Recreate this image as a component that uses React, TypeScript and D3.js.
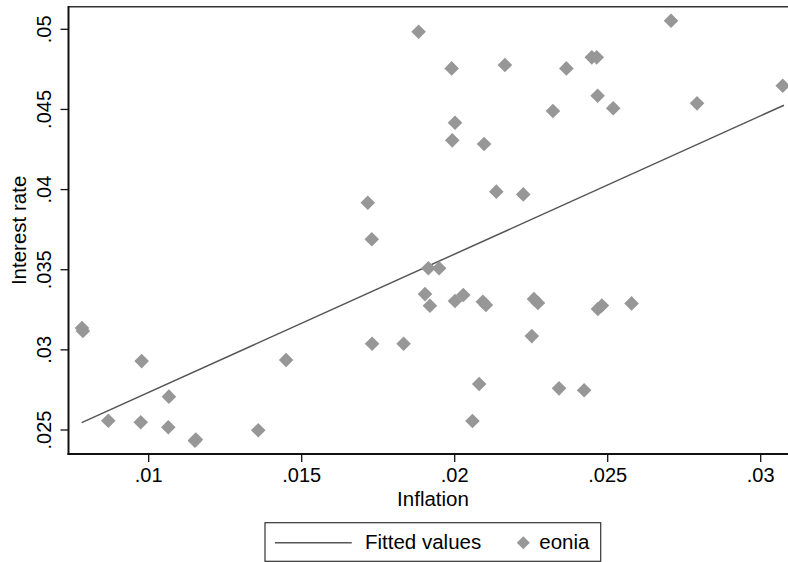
import React from "react";
import * as d3 from "d3";

const inflation = [
  0.00782, 0.00785, 0.00977, 0.01066, 0.00868, 0.00974, 0.01064, 0.01151, 0.01154,
  0.01358, 0.01449, 0.0173, 0.01833, 0.01914, 0.01949, 0.01903, 0.01919, 0.02001,
  0.02028, 0.02092, 0.02102, 0.0208, 0.02058, 0.02259, 0.02272, 0.02252, 0.02468,
  0.02481, 0.02578, 0.02341, 0.02423, 0.01882, 0.0199, 0.02001, 0.01992, 0.02096,
  0.02136, 0.01716, 0.01729, 0.02164, 0.02707, 0.02448, 0.02464, 0.02365, 0.02467,
  0.02518, 0.02321, 0.02792, 0.03072, 0.02224,
];
const eonia = [
  0.03136, 0.03118, 0.0293, 0.02708, 0.02558, 0.02548, 0.02517, 0.02433, 0.0244,
  0.02498, 0.02937, 0.03038, 0.03038, 0.03509, 0.03509, 0.03348, 0.03275, 0.03305,
  0.03342, 0.033, 0.0328, 0.02787, 0.02556, 0.03317, 0.03292, 0.03086, 0.03255,
  0.03277, 0.0329, 0.0276, 0.02748, 0.04985, 0.04756, 0.04417, 0.04307, 0.04284,
  0.03987, 0.03918, 0.0369, 0.04777, 0.05053, 0.04825, 0.04825, 0.04756, 0.04585,
  0.04507, 0.0449, 0.04538, 0.04648, 0.0397,
];
const fittedX = [0.00781, 0.03076];
const fittedY = [0.02546, 0.04526];

const xTicks = [0.01, 0.015, 0.02, 0.025, 0.03];
const yTicks = [0.025, 0.03, 0.035, 0.04, 0.045, 0.05];
const xTickLabels = [".01", ".015", ".02", ".025", ".03"];
const yTickLabels = [".025", ".03", ".035", ".04", ".045", ".05"];
const xTitle = "Inflation";
const yTitle = "Interest rate";
const legendLabels = ["Fitted values", "eonia"];

const W = 788;
const H = 562;
const left = 68.5;
const top = 6.8;
const bottom = 454;
const right = 800;
const font = "'Liberation Sans', Arial, Helvetica, sans-serif";

const x = d3.scaleLinear().domain([0.01, 0.03]).range([148.7, 760.7]);
const y = d3.scaleLinear().domain([0.025, 0.05]).range([430, 29.3]);

const diamond = (cx: number, cy: number, r: number) =>
  `M${cx},${cy - r}L${cx + r},${cy}L${cx},${cy + r}L${cx - r},${cy}Z`;

export default function App() {
  const line = d3
    .line<number>()
    .x((d) => x(d))
    .y((_, i) => y(fittedY[i]));
  const markerColor = "#979797";
  return (
    <svg
      width={W}
      height={H}
      style={{ position: "absolute", left: 0, top: 0, background: "#fff" }}
      fontFamily={font}
    >
      <rect x={0} y={0} width={W} height={H} fill="#fff" />
      {/* fitted line */}
      <path d={line(fittedX) || ""} stroke="#555" strokeWidth={1.5} fill="none" />
      {/* points */}
      {inflation.map((v, i) => (
        <path key={i} d={diamond(x(v), y(eonia[i]), 7.3)} fill={markerColor} />
      ))}
      {/* frame */}
      <line x1={left} x2={right} y1={top} y2={top} stroke="#333" strokeWidth={1.4} />
      <line x1={left} x2={left} y1={top - 0.7} y2={bottom + 1} stroke="#111" strokeWidth={2} />
      <line x1={left - 1} x2={right} y1={bottom} y2={bottom} stroke="#111" strokeWidth={2} />
      {/* x ticks */}
      {xTicks.map((t, i) => (
        <g key={"x" + i}>
          <line x1={x(t)} x2={x(t)} y1={bottom} y2={bottom + 8} stroke="#111" strokeWidth={1.3} />
          <text x={x(t)} y={482.3} fontSize={20} textAnchor="middle" fill="#000">
            {xTickLabels[i]}
          </text>
        </g>
      ))}
      {/* y ticks */}
      {yTicks.map((t, i) => (
        <g key={"y" + i}>
          <line x1={left - 8} x2={left} y1={y(t)} y2={y(t)} stroke="#111" strokeWidth={1.3} />
          <text
            x={0}
            y={0}
            fontSize={20}
            textAnchor="middle"
            fill="#000"
            transform={`translate(51,${y(t)}) rotate(-90)`}
          >
            {yTickLabels[i]}
          </text>
        </g>
      ))}
      {/* axis titles */}
      <text x={433} y={506} fontSize={20.5} textAnchor="middle" fill="#000">
        {xTitle}
      </text>
      <text
        x={0}
        y={0}
        fontSize={20.5}
        textAnchor="middle"
        fill="#000"
        transform={`translate(25.5,${(top + bottom) / 2}) rotate(-90)`}
      >
        {yTitle}
      </text>
      {/* legend */}
      <rect x={265} y={522.7} width={335.7} height={38.6} fill="#fff" stroke="#333" strokeWidth={1.2} />
      <line x1={275} x2={351.7} y1={542.7} y2={542.7} stroke="#555" strokeWidth={1.5} />
      <text x={365} y={549.3} fontSize={20.5} fill="#000">
        {legendLabels[0]}
      </text>
      <path d={diamond(523.3, 542.7, 6.5)} fill={markerColor} />
      <text x={539.3} y={549.3} fontSize={20.5} fill="#000">
        {legendLabels[1]}
      </text>
    </svg>
  );
}
